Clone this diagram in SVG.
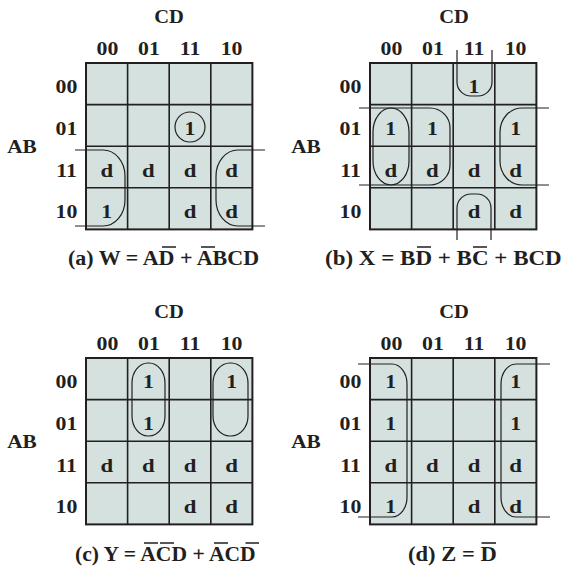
<svg xmlns="http://www.w3.org/2000/svg" width="571" height="566" viewBox="0 0 571 566" xmlns:xlink="http://www.w3.org/1999/xlink">
<style>
.t{font-family:"Liberation Serif","Times New Roman",serif;font-weight:bold;font-size:19px;text-anchor:middle;fill:#231f20}
.cap{font-family:"Liberation Serif","Times New Roman",serif;font-weight:bold;font-size:20px;fill:#231f20;white-space:pre}
.loop{fill:none;stroke:#231f20;stroke-width:1.2}
.bar{stroke:#231f20;stroke-width:1.6}
.cell{fill:#d4e1df;stroke:#231f20;stroke-width:2}
.gl{stroke:#231f20;stroke-width:1.6}
</style>
<defs>
<g id="grid">
<rect class="cell" x="0" y="0" width="166.4" height="166.4"/>
<path class="gl" d="M41.6,0V166.4M83.2,0V166.4M124.8,0V166.4M0,41.6H166.4M0,83.2H166.4M0,124.8H166.4"/>
</g>
</defs>

<g id="map-a">
<use xlink:href="#grid" href="#grid" x="86" y="63"/>
<g id="labels-a">
<text class="t" transform="translate(169,23) scale(1.08,1)">CD</text>
<text class="t" transform="translate(107.5,55) scale(1.15,1)">00</text>
<text class="t" transform="translate(148.9,55) scale(1.15,1)">01</text>
<text class="t" transform="translate(190,55) scale(1.15,1)">11</text>
<text class="t" transform="translate(231.6,55) scale(1.15,1)">10</text>
<text class="t" transform="translate(66.5,93.3) scale(1.15,1)">00</text>
<text class="t" transform="translate(66.5,134.9) scale(1.15,1)">01</text>
<text class="t" transform="translate(66.5,176.5) scale(1.15,1)">11</text>
<text class="t" transform="translate(66.5,218.1) scale(1.15,1)">10</text>
<text class="t" transform="translate(22,153) scale(1.12,1)">AB</text>
</g>
<g id="cells-a">
<text class="t" transform="translate(190,134.9) scale(1.15,1)">1</text>
<text class="t" transform="translate(106.8,176.5) scale(1.2,1)">d</text>
<text class="t" transform="translate(148.4,176.5) scale(1.2,1)">d</text>
<text class="t" transform="translate(190,176.5) scale(1.2,1)">d</text>
<text class="t" transform="translate(231.6,176.5) scale(1.2,1)">d</text>
<text class="t" transform="translate(106.8,218.1) scale(1.15,1)">1</text>
<text class="t" transform="translate(190,218.1) scale(1.2,1)">d</text>
<text class="t" transform="translate(231.6,218.1) scale(1.2,1)">d</text>
</g>
<g id="loops-a">
<circle class="loop" cx="190" cy="127" r="15"/>
<path class="loop" d="M75,150H103A22,26 0 0 1 125,176V200A22,26 0 0 1 103,226H75"/>
<path class="loop" d="M265,150H238A22,26 0 0 0 216,176V200A22,26 0 0 0 238,226H265"/>
</g>
<g id="caption-a">
<text class="cap" transform="translate(68,265) scale(1.1,1)">(a) W = AD + ABCD</text>
<path class="bar" d="M162,247H176M201,247H215"/>
</g>
</g>

<g id="map-b">
<use xlink:href="#grid" href="#grid" x="370" y="63"/>
<g id="labels-b">
<text class="t" transform="translate(454,23) scale(1.08,1)">CD</text>
<text class="t" transform="translate(391.5,55) scale(1.15,1)">00</text>
<text class="t" transform="translate(432.9,55) scale(1.15,1)">01</text>
<text class="t" transform="translate(474,55) scale(1.15,1)">11</text>
<text class="t" transform="translate(515.6,55) scale(1.15,1)">10</text>
<text class="t" transform="translate(350.5,93.3) scale(1.15,1)">00</text>
<text class="t" transform="translate(350.5,134.9) scale(1.15,1)">01</text>
<text class="t" transform="translate(350.5,176.5) scale(1.15,1)">11</text>
<text class="t" transform="translate(350.5,218.1) scale(1.15,1)">10</text>
<text class="t" transform="translate(306,153) scale(1.12,1)">AB</text>
</g>
<g id="cells-b">
<text class="t" transform="translate(474,93.3) scale(1.15,1)">1</text>
<text class="t" transform="translate(390.8,134.9) scale(1.15,1)">1</text>
<text class="t" transform="translate(432.4,134.9) scale(1.15,1)">1</text>
<text class="t" transform="translate(515.6,134.9) scale(1.15,1)">1</text>
<text class="t" transform="translate(390.8,176.5) scale(1.2,1)">d</text>
<text class="t" transform="translate(432.4,176.5) scale(1.2,1)">d</text>
<text class="t" transform="translate(474,176.5) scale(1.2,1)">d</text>
<text class="t" transform="translate(515.6,176.5) scale(1.2,1)">d</text>
<text class="t" transform="translate(474,218.1) scale(1.2,1)">d</text>
<text class="t" transform="translate(515.6,218.1) scale(1.2,1)">d</text>
</g>
<g id="loops-b">
<path class="loop" d="M457,50V82A14,14 0 0 0 471,96H478A14,14 0 0 0 492,82V50"/>
<path class="loop" d="M457,240V208A14,14 0 0 1 471,194H477A14,14 0 0 1 491,208V240"/>
<rect class="loop" x="373" y="108" width="36" height="77" rx="18" ry="24"/>
<path class="loop" d="M359,108H430A20,20 0 0 1 450,128V165A20,20 0 0 1 430,185H359"/>
<path class="loop" d="M549,108H522A22,24 0 0 0 500,132V161A22,24 0 0 0 522,185H549"/>
</g>
<g id="caption-b">
<text class="cap" transform="translate(325,265) scale(1.15,1)">(b) X = BD + BC + BCD</text>
<path class="bar" d="M417,247H431M473,247H487"/>
</g>
</g>

<g id="map-c">
<use xlink:href="#grid" href="#grid" x="86" y="358"/>
<g id="labels-c">
<text class="t" transform="translate(169,318) scale(1.08,1)">CD</text>
<text class="t" transform="translate(107.5,350) scale(1.15,1)">00</text>
<text class="t" transform="translate(148.9,350) scale(1.15,1)">01</text>
<text class="t" transform="translate(190,350) scale(1.15,1)">11</text>
<text class="t" transform="translate(231.6,350) scale(1.15,1)">10</text>
<text class="t" transform="translate(66.5,388.3) scale(1.15,1)">00</text>
<text class="t" transform="translate(66.5,429.9) scale(1.15,1)">01</text>
<text class="t" transform="translate(66.5,471.5) scale(1.15,1)">11</text>
<text class="t" transform="translate(66.5,513.1) scale(1.15,1)">10</text>
<text class="t" transform="translate(22,448) scale(1.12,1)">AB</text>
</g>
<g id="cells-c">
<text class="t" transform="translate(148.4,388.3) scale(1.15,1)">1</text>
<text class="t" transform="translate(231.6,388.3) scale(1.15,1)">1</text>
<text class="t" transform="translate(148.4,429.9) scale(1.15,1)">1</text>
<text class="t" transform="translate(106.8,471.5) scale(1.2,1)">d</text>
<text class="t" transform="translate(148.4,471.5) scale(1.2,1)">d</text>
<text class="t" transform="translate(190,471.5) scale(1.2,1)">d</text>
<text class="t" transform="translate(231.6,471.5) scale(1.2,1)">d</text>
<text class="t" transform="translate(190,513.1) scale(1.2,1)">d</text>
<text class="t" transform="translate(231.6,513.1) scale(1.2,1)">d</text>
</g>
<g id="loops-c">
<rect class="loop" x="132" y="363" width="33" height="73" rx="16" ry="20"/>
<rect class="loop" x="213" y="363" width="35" height="73" rx="17" ry="20"/>
</g>
<g id="caption-c">
<text class="cap" transform="translate(75,561) scale(1.08,1)">(c) Y = ACD + ACD</text>
<path class="bar" d="M144,543H158M160,543H174M214,543H228M245.5,543H259"/>
</g>
</g>

<g id="map-d">
<use xlink:href="#grid" href="#grid" x="370" y="358"/>
<g id="labels-d">
<text class="t" transform="translate(454,318) scale(1.08,1)">CD</text>
<text class="t" transform="translate(391.5,350) scale(1.15,1)">00</text>
<text class="t" transform="translate(432.9,350) scale(1.15,1)">01</text>
<text class="t" transform="translate(474,350) scale(1.15,1)">11</text>
<text class="t" transform="translate(515.6,350) scale(1.15,1)">10</text>
<text class="t" transform="translate(350.5,388.3) scale(1.15,1)">00</text>
<text class="t" transform="translate(350.5,429.9) scale(1.15,1)">01</text>
<text class="t" transform="translate(350.5,471.5) scale(1.15,1)">11</text>
<text class="t" transform="translate(350.5,513.1) scale(1.15,1)">10</text>
<text class="t" transform="translate(306,448) scale(1.12,1)">AB</text>
</g>
<g id="cells-d">
<text class="t" transform="translate(390.8,388.3) scale(1.15,1)">1</text>
<text class="t" transform="translate(515.6,388.3) scale(1.15,1)">1</text>
<text class="t" transform="translate(390.8,429.9) scale(1.15,1)">1</text>
<text class="t" transform="translate(515.6,429.9) scale(1.15,1)">1</text>
<text class="t" transform="translate(390.8,471.5) scale(1.2,1)">d</text>
<text class="t" transform="translate(432.4,471.5) scale(1.2,1)">d</text>
<text class="t" transform="translate(474,471.5) scale(1.2,1)">d</text>
<text class="t" transform="translate(515.6,471.5) scale(1.2,1)">d</text>
<text class="t" transform="translate(390.8,513.1) scale(1.15,1)">1</text>
<text class="t" transform="translate(474,513.1) scale(1.2,1)">d</text>
<text class="t" transform="translate(515.6,513.1) scale(1.2,1)">d</text>
</g>
<g id="loops-d">
<path class="loop" d="M358,364H392A15,20 0 0 1 407,384V497A15,20 0 0 1 392,517H358"/>
<path class="loop" d="M550,364H516A15,20 0 0 0 501,384V497A15,20 0 0 0 516,517H550"/>
</g>
<g id="caption-d">
<text class="cap" transform="translate(408,561) scale(1.13,1)">(d) Z = D</text>
<path class="bar" d="M481.5,543H496"/>
</g>
</g>
</svg>
